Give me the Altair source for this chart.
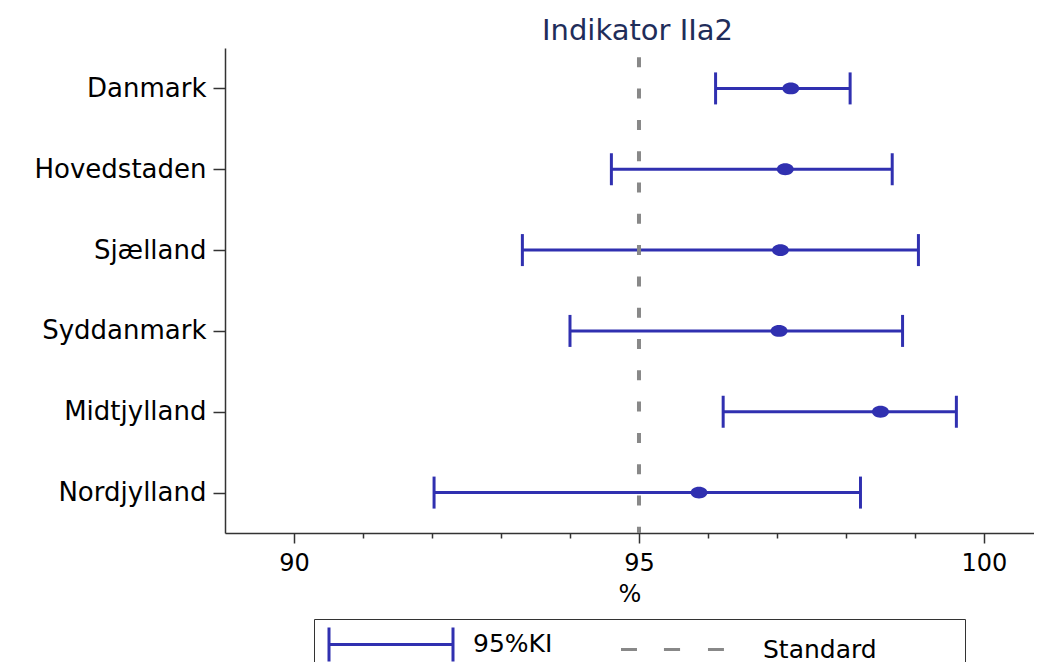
import altair as alt
import pandas as pd

# ---- data ----
regions = ["Danmark", "Hovedstaden", "Sjælland", "Syddanmark", "Midtjylland", "Nordjylland"]
estimate = [97.20, 97.12, 97.05, 97.03, 98.50, 95.87]
ci_low = [96.11, 94.60, 93.31, 94.00, 96.22, 92.03]
ci_high = [98.06, 98.67, 99.05, 98.82, 99.60, 98.21]
standard = [95]
legend_names = ["95%KI", "Standard"]
x_ticks = [90, 91, 92, 93, 94, 95, 96, 97, 98, 99, 100]

BLUE = "#3030b0"
GREY = "#888888"
FONT = "DejaVu Sans"

df = pd.DataFrame({"region": regions, "est": estimate, "lo": ci_low, "hi": ci_high})
df_std = pd.DataFrame({"std": standard})
df_leg = pd.DataFrame({"series": legend_names})

x_scale = alt.Scale(domain=[89, 100.725], nice=False, zero=False)
y_scale = alt.Scale(type="point", padding=0.5, domain=regions)

x_axis = alt.Axis(
    title="%",
    values=x_ticks,
    format="d",
    labelExpr="datum.value % 5 === 0 ? datum.label : ''",
    tickSize={"condition": {"test": "datum.value % 5 === 0", "value": 10}, "value": 5},
    labelOverlap=False,
    labelFlush=False,
    labelPadding=8,
    labelFontSize=24,
    labelFont=FONT,
    labelColor="black",
    titleFont=FONT,
    titleFontSize=24,
    titleFontWeight="normal",
    titleColor="black",
    titlePadding=7,
    domainColor="#333333",
    domainWidth=1.5,
    tickColor="#333333",
    tickWidth=1.5,
    grid=False,
)
y_axis = alt.Axis(
    title=None,
    tickSize=12,
    labelPadding=7,
    labelFontSize=26,
    labelFont=FONT,
    labelColor="black",
    domainColor="#333333",
    domainWidth=1.5,
    tickColor="#333333",
    tickWidth=1.5,
    grid=False,
)

base = alt.Chart(df)

bars = base.mark_rule(color=BLUE, strokeWidth=3).encode(
    x=alt.X("lo:Q", scale=x_scale, axis=x_axis),
    x2="hi:Q",
    y=alt.Y("region:N", scale=y_scale, axis=y_axis, sort=regions),
)

caps = base.transform_fold(["lo", "hi"], as_=["end", "val"]).mark_tick(
    color=BLUE, size=32, thickness=3, opacity=1
).encode(
    x=alt.X("val:Q", scale=x_scale),
    y=alt.Y("region:N", scale=y_scale, sort=regions),
)

ellipse = "M-1,0A1,0.7,0,1,0,1,0A1,0.7,0,1,0,-1,0Z"
points = base.mark_point(shape=ellipse, size=289, filled=True, opacity=1, color=BLUE).encode(
    x=alt.X("est:Q", scale=x_scale),
    y=alt.Y("region:N", scale=y_scale, sort=regions),
)

std_line = alt.Chart(df_std).mark_rule(
    color=GREY, strokeWidth=4, strokeDash=[10, 21.3], strokeDashOffset=22
).encode(x=alt.X("std:Q", scale=x_scale))

errbar_path = "M-4,-1.1L-4,1.1M-4,0L4,0M4,-1.1L4,1.1"
dash_path = "M-3.87,0L-2.84,0M-1.1,0L-0.06,0M1.74,0L2.77,0"
pad_label = "Standard" + "\u00a0" * 10 + "\u200b"
leg = alt.Legend(
    title=None,
    orient="none",
    legendX=89,
    legendY=571,
    direction="horizontal",
    padding=8,
    strokeColor="#333333",
    symbolSize=961,
    symbolStrokeWidth=3,
    symbolOpacity=1,
    symbolOffset=52,
    labelOffset=65,
    columnPadding=59,
    labelFont=FONT,
    labelFontSize=25,
    labelColor="black",
    labelLimit=400,
    labelExpr="datum.label == 'Standard' ? '" + pad_label + "' : datum.label",
)
dummy = alt.Chart(df_leg).mark_point(filled=False, opacity=0).encode(
    color=alt.Color("series:N", scale=alt.Scale(domain=legend_names, range=[BLUE, GREY]), legend=leg),
    shape=alt.Shape("series:N", scale=alt.Scale(domain=legend_names, range=[errbar_path, dash_path]), legend=leg),
)

chart = alt.layer(bars, caps, points, std_line, dummy).properties(
    width=809,
    height=485,
    autosize=alt.AutoSizeParams(type="none"),
    padding={"top": 40, "left": 217, "right": 0, "bottom": 150},
    title=alt.Title(
        "Indikator IIa2",
        fontSize=29,
        font=FONT,
        fontWeight="normal",
        color="#1f2d5a",
        offset=0,
        dx=8,
        anchor="middle",
    ),
).configure_view(strokeOpacity=0)

chart.save("out.html", embed_options={"renderer": "svg", "actions": False})
